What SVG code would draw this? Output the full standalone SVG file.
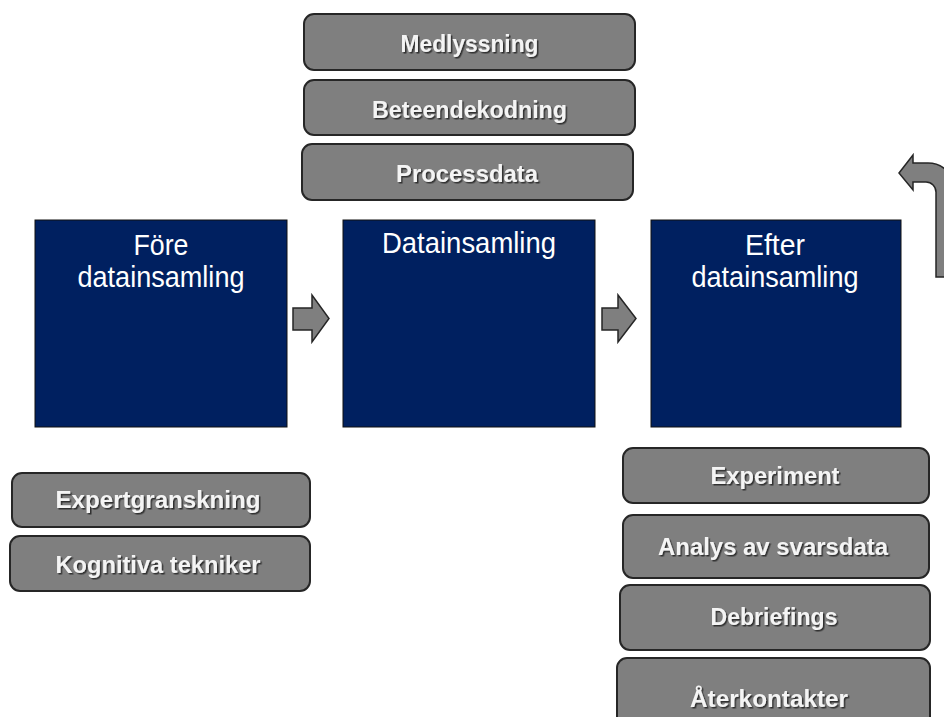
<svg xmlns="http://www.w3.org/2000/svg" width="944" height="717" viewBox="0 0 944 717">
<defs>
<filter id="sh" x="-10%" y="-30%" width="120%" height="160%">
<feDropShadow dx="1.5" dy="1.5" stdDeviation="0.6" flood-color="#2a2a2a" flood-opacity="0.9"/>
</filter>
</defs>
<style>
.g rect{fill:#7f7f7f;stroke:#262626;stroke-width:2}
.g text{font-family:"Liberation Sans",Arial,sans-serif;font-weight:bold;font-size:24px;fill:#f4f4f4;text-anchor:middle;filter:url(#sh)}
.b rect{fill:#002060;stroke:#111;stroke-width:1}
.b text{font-family:"Liberation Sans",Arial,sans-serif;font-size:30px;fill:#ffffff;text-anchor:middle}
.arr{fill:#7f7f7f;stroke:#262626;stroke-width:1.5;stroke-linejoin:miter}
</style>
<rect width="944" height="717" fill="#ffffff"/>

<g id="medlyssning" class="g"><rect x="304" y="14" width="331" height="56" rx="10"/><text x="469.5" y="52" textLength="138" lengthAdjust="spacingAndGlyphs">Medlyssning</text></g>
<g id="beteendekodning" class="g"><rect x="304" y="80" width="331" height="55" rx="10"/><text x="469.5" y="118" textLength="195" lengthAdjust="spacingAndGlyphs">Beteendekodning</text></g>
<g id="processdata" class="g"><rect x="302" y="144" width="331" height="56" rx="10"/><text x="467" y="182" textLength="142" lengthAdjust="spacingAndGlyphs">Processdata</text></g>

<g id="fore" class="b"><rect x="35" y="220" width="252" height="207"/><text x="161" y="255" textLength="55" lengthAdjust="spacingAndGlyphs">Före</text><text x="161" y="287" textLength="167" lengthAdjust="spacingAndGlyphs">datainsamling</text></g>
<g id="datainsamling" class="b"><rect x="343" y="220" width="252" height="207"/><text x="469" y="253" textLength="174" lengthAdjust="spacingAndGlyphs">Datainsamling</text></g>
<g id="efter" class="b"><rect x="651" y="220" width="250" height="207"/><text x="775" y="255" textLength="60" lengthAdjust="spacingAndGlyphs">Efter</text><text x="775" y="287" textLength="167" lengthAdjust="spacingAndGlyphs">datainsamling</text></g>

<g id="expertgranskning" class="g"><rect x="12" y="473" width="298" height="54" rx="10"/><text x="158" y="508" textLength="205" lengthAdjust="spacingAndGlyphs">Expertgranskning</text></g>
<g id="kognitiva" class="g"><rect x="10" y="536" width="300" height="55" rx="10"/><text x="158" y="573" textLength="205" lengthAdjust="spacingAndGlyphs">Kognitiva tekniker</text></g>

<g id="experiment" class="g"><rect x="623" y="448" width="306" height="55" rx="10"/><text x="775" y="484" textLength="129" lengthAdjust="spacingAndGlyphs">Experiment</text></g>
<g id="analys" class="g"><rect x="623" y="515" width="306" height="63" rx="10"/><text x="773" y="555" textLength="230" lengthAdjust="spacingAndGlyphs">Analys av svarsdata</text></g>
<g id="debriefings" class="g"><rect x="620" y="585" width="310" height="65" rx="10"/><text x="774" y="625" textLength="127" lengthAdjust="spacingAndGlyphs">Debriefings</text></g>
<g id="aterkontakter" class="g"><rect x="617" y="658" width="313" height="70" rx="10"/><text x="769" y="707" textLength="158" lengthAdjust="spacingAndGlyphs">Återkontakter</text></g>

<g id="connectors">
<polygon class="arr" points="293,308 312,308 312,295 329,318.5 312,342 312,330 293,330"/>
<polygon class="arr" points="602,308 618,308 618,295 636,318.5 618,342 618,330 602,330"/>
<path class="arr" d="M899,173 L913,155 L913,163 L928,163 A27,27 0 0 1 955,190 L955,277 L936,277 L936,192 A10,10 0 0 0 926,182 L913,182 L913,190 Z"/>
</g>
</svg>
